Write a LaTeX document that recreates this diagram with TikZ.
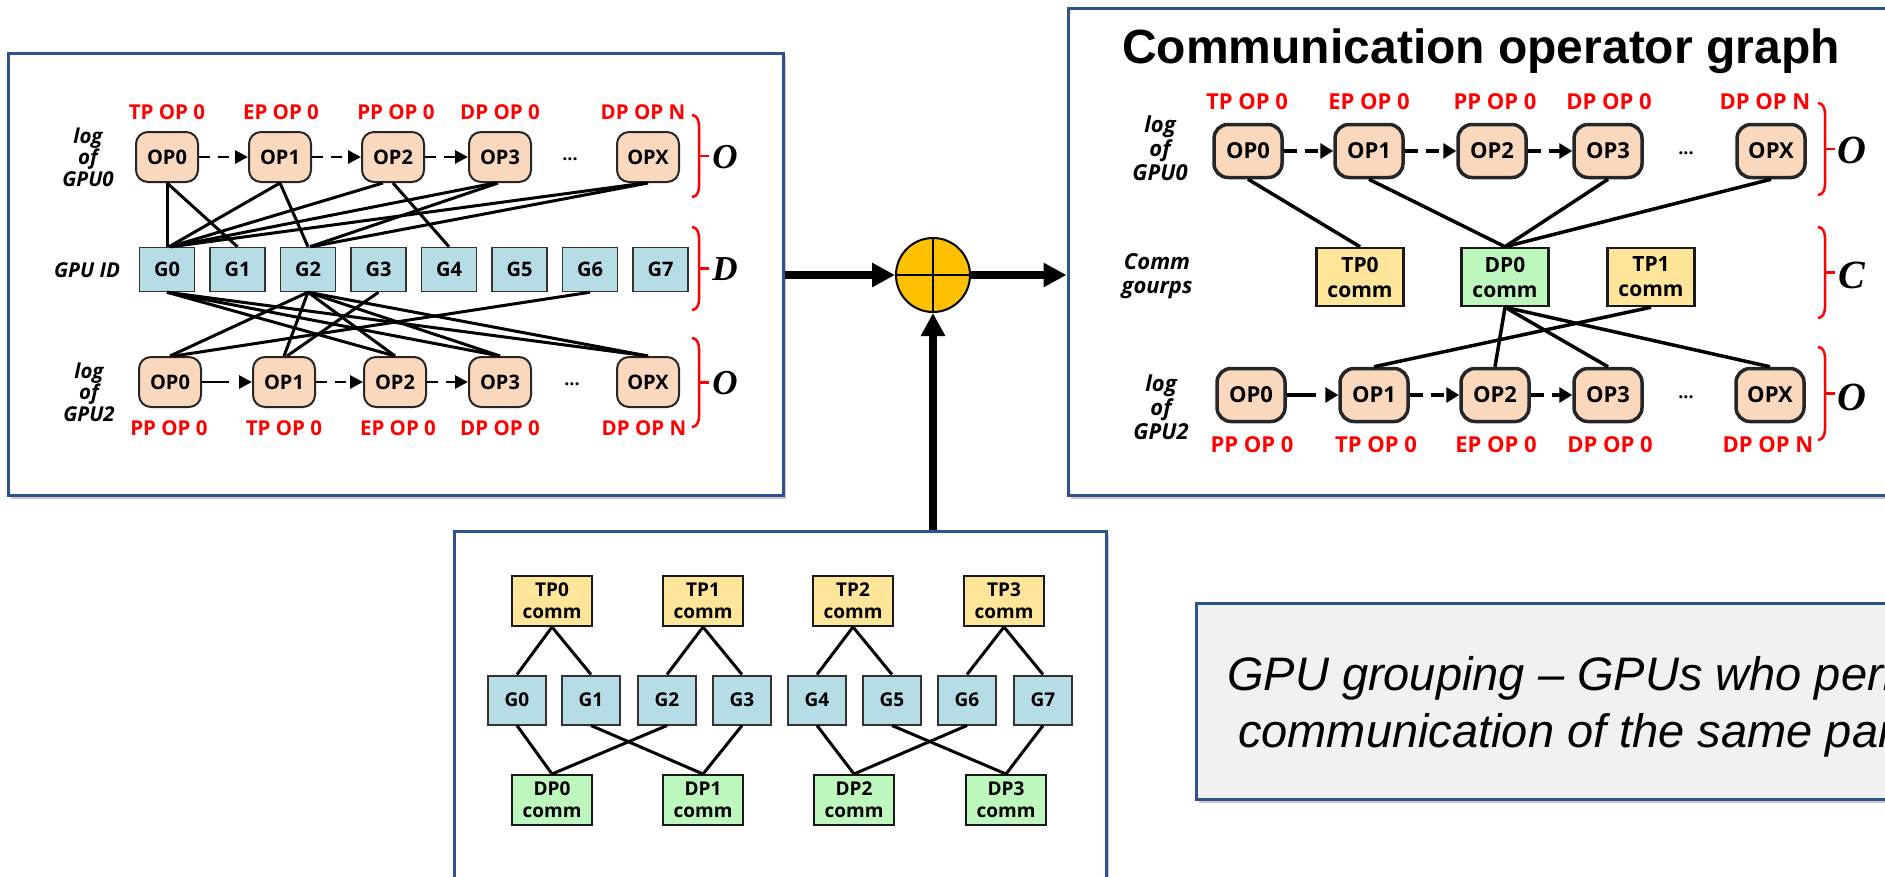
\documentclass[tikz,border=0pt]{standalone}
\usepackage{fontspec}
\setmainfont{Liberation Sans}
\newfontfamily\osans{Open Sans}
\newfontfamily\tserif{Liberation Serif}
\usetikzlibrary{arrows.meta,shadows,calc}

\definecolor{panelblue}{RGB}{47,82,143}
\definecolor{opfill}{RGB}{250,216,190}
\definecolor{gpufill}{RGB}{182,220,230}
\definecolor{tpfill}{RGB}{255,229,153}
\definecolor{dpfill}{RGB}{189,247,189}
\definecolor{labred}{RGB}{255,0,0}
\definecolor{sumfill}{RGB}{255,192,0}
\definecolor{notefill}{RGB}{241,241,241}

% red side brace: x of the stem, top, bottom
\newcommand\sidebrace[3]{%
  \draw[bracepen] ({#1-7},#2) to[out=0,in=90] (#1,{#2+11}) -- (#1,{#3-11})
    to[out=-90,in=0] ({#1-7},#3);
  \draw[bracepen] (#1,{(#2+#3)/2}) -- ({#1+10},{(#2+#3)/2});}

\tikzset{
  panel/.style={draw=panelblue, line width=3pt, fill=white, inner sep=0pt,
    drop shadow={shadow xshift=3pt, shadow yshift=-4pt, opacity=0.35, fill=black!60}},
  notebox/.style={panel, fill=notefill},
  opL/.style={draw=black!85, line width=2pt, fill=opfill, rounded corners=12pt,
    minimum width=62pt, minimum height=50pt, inner sep=0pt,
    font=\osans\bfseries\fontsize{20}{24}\selectfont},
  opR/.style={opL, line width=3.5pt, rounded corners=14pt,
    minimum width=68pt, minimum height=53pt,
    font=\osans\bfseries\fontsize{22}{26}\selectfont},
  gpuL/.style={draw=black!80, line width=1.5pt, fill=gpufill, minimum width=55pt,
    minimum height=44pt, inner sep=0pt, font=\osans\bfseries\fontsize{20}{24}\selectfont},
  gpuB/.style={gpuL, line width=2pt, minimum width=58pt, minimum height=49pt,
    font=\osans\bfseries\fontsize{19}{22}\selectfont},
  commR/.style={draw=black!90, line width=2.5pt, minimum width=87pt, minimum height=58pt,
    inner sep=0pt, align=center, font=\osans\bfseries\fontsize{21}{25}\selectfont},
  commB/.style={commR, line width=2pt, minimum width=80pt, minimum height=50pt,
    font=\osans\bfseries\fontsize{19}{22}\selectfont},
  redL/.style={text=labred, inner sep=0pt, font=\osans\bfseries\fontsize{20.5}{24}\selectfont},
  redR/.style={redL, font=\osans\bfseries\fontsize{22}{26}\selectfont},
  sideL/.style={inner sep=0pt, align=center,
    font=\osans\bfseries\itshape\fontsize{20.5}{21.5}\selectfont},
  sideR/.style={sideL, font=\osans\bfseries\itshape\fontsize{22}{24}\selectfont},
  dotsL/.style={inner sep=0pt, font=\osans\bfseries\fontsize{18}{20}\selectfont},
  letL/.style={inner sep=0pt, font=\tserif\bfseries\itshape\fontsize{35}{38}\selectfont},
  letR/.style={letL, font=\tserif\bfseries\itshape\fontsize{40}{44}\selectfont},
  bracepen/.style={labred, line width=2.5pt},
  linkL/.style={black, line width=3pt},
  linkR/.style={black, line width=3.5pt},
  linkB/.style={black, line width=3pt},
  seqL/.style={black, line width=2.8pt, dash pattern=on 11pt off 8pt,
    -{Triangle[length=13pt,width=13pt]}},
  seqLlong/.style={seqL, dash pattern=on 27pt off 11pt},
  seqR/.style={seqL, line width=3.5pt, dash pattern=on 13pt off 8pt,
    -{Triangle[length=13pt,width=15pt]}},
  seqRlong/.style={seqR, dash pattern=on 29pt off 11pt},
  bigarrow/.style={black, line width=8pt, -{Triangle[length=23pt,width=23pt]}},
  title/.style={inner sep=0pt, font=\bfseries\fontsize{48}{56}\selectfont},
  notetext/.style={inner sep=0pt, font=\itshape\fontsize{47}{57}\selectfont},
}

\begin{document}
\begin{tikzpicture}[x=1pt,y=-1pt]
\useasboundingbox (0,0) rectangle (1885,876);
\clip (0,0) rectangle (1885,876);

% ---------- panels ----------
\node[panel, minimum width=775pt, minimum height=442pt] (lp) at (395.5,274) {};
\node[panel, minimum width=840pt, minimum height=487pt] (rp) at (1488,251.5) {};
\node[panel, minimum width=652pt, minimum height=380pt] (bp) at (780,721) {};
\node[notebox, minimum width=712pt, minimum height=196pt] (note) at (1552,701) {};

% ---------- left panel: operator logs and GPU ids ----------
\node[opL] (lt0) at (167,157) {OP0};
\node[opL] (lt1) at (280,157) {OP1};
\node[opL] (lt2) at (393,157) {OP2};
\node[opL] (lt3) at (500,157) {OP3};
\node[dotsL] (ltd) at (570,159) {...};
\node[opL] (ltx) at (648,157) {OPX};

\node[redL] (lta0) at (167,112) {TP OP 0};
\node[redL] (lta1) at (281,112) {EP OP 0};
\node[redL] (lta2) at (396,112) {PP OP 0};
\node[redL] (lta3) at (500,112) {DP OP 0};
\node[redL] (ltax) at (643,112) {DP OP N};

\foreach \i in {0,...,7}
  \node[gpuL] (lg\i) at ({167+70.5*\i},269.5) {G\i};

\node[opL] (lb0) at (170,382) {OP0};
\node[opL] (lb1) at (284,382) {OP1};
\node[opL] (lb2) at (395,382) {OP2};
\node[opL] (lb3) at (500,382) {OP3};
\node[dotsL] (lbd) at (572,384) {...};
\node[opL] (lbx) at (648,382) {OPX};

\node[redL] (lba0) at (169,428) {PP OP 0};
\node[redL] (lba1) at (284,428) {TP OP 0};
\node[redL] (lba2) at (398,428) {EP OP 0};
\node[redL] (lba3) at (500,428) {DP OP 0};
\node[redL] (lbax) at (644,428) {DP OP N};

\node[sideL] (lside0) at (88,157) {log\\of\\GPU0};
\node[sideL] (lsideg) at (87,270) {GPU ID};
\node[sideL] (lside2) at (89,392) {log\\of\\GPU2};

\draw[seqL] (lt0.east) -- (lt1.west);
\draw[seqL] (lt1.east) -- (lt2.west);
\draw[seqL] (lt2.east) -- (lt3.west);
\draw[seqLlong] (lb0.east) -- (lb1.west);
\draw[seqL] (lb1.east) -- (lb2.west);
\draw[seqL] (lb2.east) -- (lb3.west);

% operators of GPU0 to the GPUs they talk to
\draw[linkL] (lt0.south) -- (lg0.north);
\draw[linkL] (lt0.south) -- (lg1.north);
\draw[linkL] (lt1.south) -- ([xshift=2pt]lg0.north);
\draw[linkL] (lt1.south) -- (lg2.north);
\draw[linkL] ([xshift=-10pt]lt2.south) -- ([xshift=3pt]lg0.north);
\draw[linkL] (lt2.south) -- (lg4.north);
\draw[linkL] ([xshift=-5pt]lt3.south) -- ([xshift=4pt]lg0.north);
\draw[linkL] ([xshift=-2pt]lt3.south) -- ([xshift=2pt]lg2.north);
\draw[linkL] ([xshift=-3pt]ltx.south) -- ([xshift=4pt]lg0.north);
\draw[linkL] (ltx.south) -- ([xshift=3pt]lg2.north);

% GPUs to the operators of GPU2
\draw[linkL] (lg0.south) -- (lb2.north);
\draw[linkL] (lg0.south) -- (lb3.north);
\draw[linkL] (lg0.south) -- (lbx.north);
\draw[linkL] (lg2.south) -- (lb0.north);
\draw[linkL] (lg2.south) -- (lb1.north);
\draw[linkL] (lg2.south) -- (lb2.north);
\draw[linkL] (lg2.south) -- (lb3.north);
\draw[linkL] (lg2.south) -- (lbx.north);
\draw[linkL] (lg3.south) -- ([xshift=3pt]lb1.north);
\draw[linkL] (lg6.south) -- ([xshift=4pt]lb0.north);

\sidebrace{699}{115}{197}
\sidebrace{699}{227}{310}
\sidebrace{699}{338}{427}
\node[letL] (lO0) at (725,157) {O};
\node[letL] (lD) at (725,269) {D};
\node[letL] (lO2) at (725,383) {O};

% ---------- right panel: communication operator graph ----------
\node[title, anchor=base] (rtitle) at (1481,63) {Communication operator graph};

\node[opR] (rt0) at (1248,151) {OP0};
\node[opR] (rt1) at (1369,151) {OP1};
\node[opR] (rt2) at (1492,151) {OP2};
\node[opR] (rt3) at (1608,151) {OP3};
\node[dotsL] (rtd) at (1686,153) {...};
\node[opR] (rtx) at (1771,151) {OPX};

\node[redR] (rta0) at (1247,102) {TP OP 0};
\node[redR] (rta1) at (1369,102) {EP OP 0};
\node[redR] (rta2) at (1495,102) {PP OP 0};
\node[redR] (rta3) at (1609,102) {DP OP 0};
\node[redR] (rtax) at (1765,102) {DP OP N};

\node[commR, fill=tpfill] (rc0) at (1360,277) {TP0\\comm};
\node[commR, fill=dpfill] (rc1) at (1505,277) {DP0\\comm};
\node[commR, fill=tpfill] (rc2) at (1651,277) {TP1\\comm};

\node[opR] (rb0) at (1251,395) {OP0};
\node[opR] (rb1) at (1374,395) {OP1};
\node[opR] (rb2) at (1495,395) {OP2};
\node[opR] (rb3) at (1608,395) {OP3};
\node[dotsL] (rbd) at (1686,397) {...};
\node[opR] (rbx) at (1770,395) {OPX};

\node[redR] (rba0) at (1252,445) {PP OP 0};
\node[redR] (rba1) at (1376,445) {TP OP 0};
\node[redR] (rba2) at (1496,445) {EP OP 0};
\node[redR] (rba3) at (1610,445) {DP OP 0};
\node[redR] (rbax) at (1768,445) {DP OP N};

\node[sideR] (rside0) at (1160,148) {log\\of\\GPU0};
\node[sideR] (rsidec) at (1157,276) {Comm\\gourps};
\node[sideR] (rside2) at (1161,407) {log\\of\\GPU2};

\draw[seqR] (rt0.east) -- (rt1.west);
\draw[seqR] (rt1.east) -- (rt2.west);
\draw[seqR] (rt2.east) -- (rt3.west);
\draw[seqRlong] (rb0.east) -- (rb1.west);
\draw[seqR] (rb1.east) -- (rb2.west);
\draw[seqR] (rb2.east) -- (rb3.west);

\draw[linkR] (rt0.south) -- (rc0.north);
\draw[linkR] (rt1.south) -- (rc1.north);
\draw[linkR] (rt3.south) -- (rc1.north);
\draw[linkR] (rtx.south) -- (rc1.north);
\draw[linkR] (rc1.south) -- (rb2.north);
\draw[linkR] (rc1.south) -- (rb3.north);
\draw[linkR] (rc1.south) -- (rbx.north);
\draw[linkR] (rc2.south) -- (rb1.north);

\sidebrace{1825}{103}{195}
\sidebrace{1825}{227}{318}
\sidebrace{1825}{347}{440}
\node[letR] (rO0) at (1852,150) {O};
\node[letR] (rC) at (1852,275) {C};
\node[letR] (rO2) at (1852,397) {O};

% ---------- bottom panel: GPU grouping ----------
\node[commB, fill=tpfill] (tp0) at (552,601) {TP0\\comm};
\node[commB, fill=tpfill] (tp1) at (703,601) {TP1\\comm};
\node[commB, fill=tpfill] (tp2) at (853,601) {TP2\\comm};
\node[commB, fill=tpfill] (tp3) at (1004,601) {TP3\\comm};

\node[gpuB] (g0) at (517,700) {G0};
\node[gpuB] (g1) at (591,700) {G1};
\node[gpuB] (g2) at (667,700) {G2};
\node[gpuB] (g3) at (742,700) {G3};
\node[gpuB] (g4) at (817,700) {G4};
\node[gpuB] (g5) at (892,700) {G5};
\node[gpuB] (g6) at (967,700) {G6};
\node[gpuB] (g7) at (1043,700) {G7};

\node[commB, fill=dpfill] (dp0) at (552,800) {DP0\\comm};
\node[commB, fill=dpfill] (dp1) at (703,800) {DP1\\comm};
\node[commB, fill=dpfill] (dp2) at (854,800) {DP2\\comm};
\node[commB, fill=dpfill] (dp3) at (1006,800) {DP3\\comm};

\foreach \t/\a/\b in {tp0/g0/g1, tp1/g2/g3, tp2/g4/g5, tp3/g6/g7} {
  \draw[linkB] (\t.south) -- (\a.north);
  \draw[linkB] (\t.south) -- (\b.north);
}
\foreach \d/\a/\b in {dp0/g0/g2, dp1/g1/g3, dp2/g4/g6, dp3/g5/g7} {
  \draw[linkB] (\a.south) -- (\d.north);
  \draw[linkB] (\b.south) -- (\d.north);
}

% ---------- combining the two inputs ----------
\node[circle, draw, line width=2pt, fill=sumfill, minimum size=74pt, inner sep=0pt] (sum) at (933,275) {};
\draw[line width=2pt] (sum.north) -- (sum.south);
\draw[line width=2pt] (sum.west) -- (sum.east);

\draw[bigarrow] (lp.east |- sum.west) -- (sum.west);
\draw[bigarrow] (sum.east) -- (sum.east -| rp.west);
\draw[bigarrow] (sum |- bp.north) -- (sum.south);

% ---------- note ----------
\node[notetext, anchor=base west] (note1) at (1227,690) {GPU grouping – GPUs who perform};
\node[notetext, anchor=base west] (note2) at (1238,747) {communication of the same parallel};
\end{tikzpicture}
\end{document}
